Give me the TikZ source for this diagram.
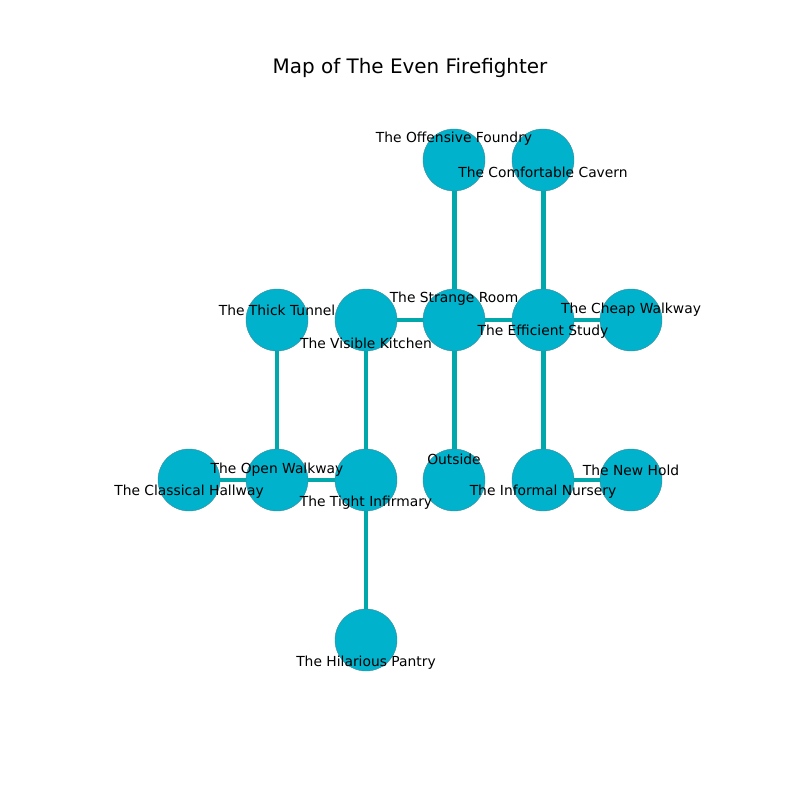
\documentclass[tikz,border=0pt]{standalone}
\usepackage{fontspec}
\setmainfont{DejaVu Sans}
\usetikzlibrary{backgrounds}
\definecolor{nodefill}{HTML}{00B2CC}
\definecolor{nodeedge}{HTML}{3E8A9A}
\definecolor{edgecol}{HTML}{00A8AC}
\newlength{\pxu}
\setlength{\pxu}{0.01in}
\tikzset{
  room/.style={circle, fill=nodefill, draw=nodeedge, line width=0.3pt, minimum size=62\pxu, inner sep=0pt},
  link/.style={draw=edgecol, line width=3.6pt},
  lbl/.style={font=\fontsize{10}{12}\selectfont, inner sep=0pt, anchor=center}
}
\begin{document}
\begin{tikzpicture}[x=0.01in,y=-0.01in]
\useasboundingbox (0,0) rectangle (800,800);
\node[font=\fontsize{14.4}{17}\selectfont] (title) at (410,68) {Map of The Even Firefighter};
% rooms
\node[room] (of) at (454,160) {};
\node[room] (cc) at (543,160) {};
\node[room] (tt) at (277,320) {};
\node[room] (vk) at (366,320) {};
\node[room] (sr) at (454,320) {};
\node[room] (es) at (543,320) {};
\node[room] (cw) at (631,320) {};
\node[room] (ch) at (189,480) {};
\node[room] (ow) at (277,480) {};
\node[room] (ti) at (366,480) {};
\node[room] (ou) at (454,480) {};
\node[room] (in) at (543,480) {};
\node[room] (nh) at (631,480) {};
\node[room] (hp) at (366,640) {};
% connectors beneath the rooms
\begin{scope}[on background layer]
\fill[white] (0,0) rectangle (800,800);
\draw[link] (of.center) -- (sr.center);
\draw[link] (cc.center) -- (es.center);
\draw[link] (vk.center) -- (sr.center);
\draw[link] (sr.center) -- (es.center);
\draw[link] (es.center) -- (cw.center);
\draw[link] (tt.center) -- (ow.center);
\draw[link] (vk.center) -- (ti.center);
\draw[link] (sr.center) -- (ou.center);
\draw[link] (es.center) -- (in.center);
\draw[link] (ch.center) -- (ow.center);
\draw[link] (ow.center) -- (ti.center);
\draw[link] (in.center) -- (nh.center);
\draw[link] (ti.center) -- (hp.center);
\end{scope}
% labels
\node[lbl] (lof) at (454,139) {The Offensive Foundry};
\node[lbl] (lcc) at (543,172) {The Comfortable Cavern};
\node[lbl] (ltt) at (277,310) {The Thick Tunnel};
\node[lbl] (lvk) at (366,343) {The Visible Kitchen};
\node[lbl] (lsr) at (454,299) {The Strange Room};
\node[lbl] (les) at (543,332) {The Efficient Study};
\node[lbl] (lcw) at (631,310) {The Cheap Walkway};
\node[lbl] (lch) at (189,492) {The Classical Hallway};
\node[lbl] (low) at (277,470) {The Open Walkway};
\node[lbl] (lti) at (366,503) {The Tight Infirmary};
\node[lbl] (lou) at (454,459) {Outside};
\node[lbl] (lin) at (543,492) {The Informal Nursery};
\node[lbl] (lnh) at (631,470) {The New Hold};
\node[lbl] (lhp) at (366,663) {The Hilarious Pantry};
\end{tikzpicture}
\end{document}
